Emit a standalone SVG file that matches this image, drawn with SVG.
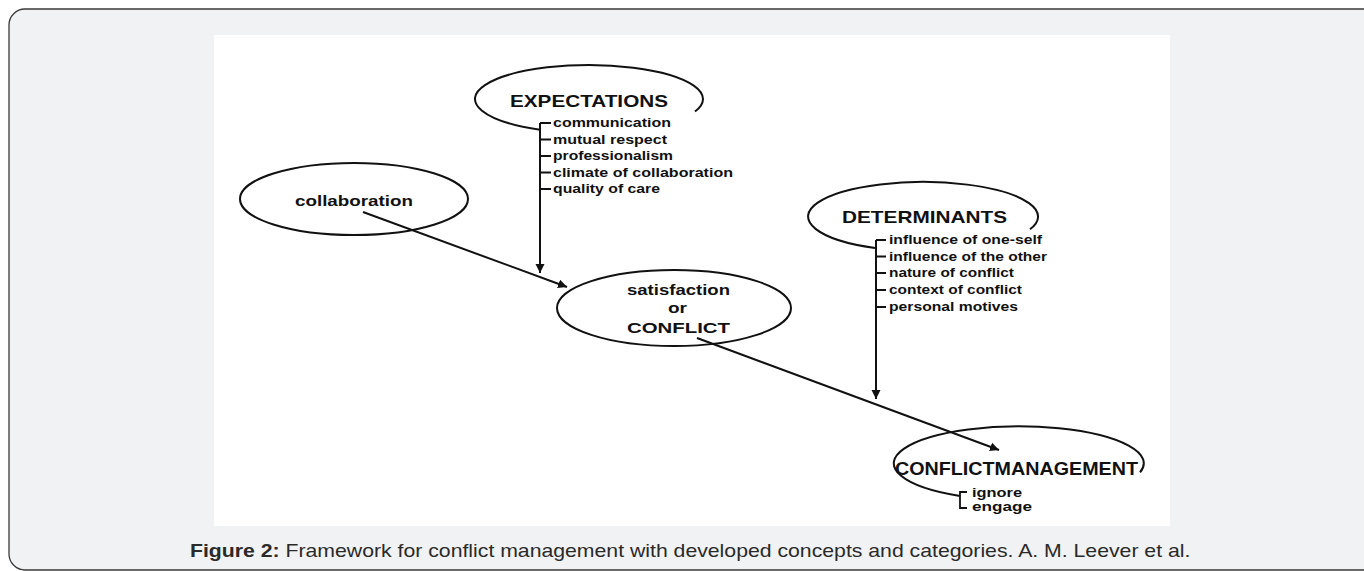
<svg xmlns="http://www.w3.org/2000/svg" width="1364" height="571" viewBox="0 0 1364 571">
<style>
.frame{fill:#f1f2f4;stroke:#3a3a3a;stroke-width:1.3}
.ell{fill:none;stroke:#111;stroke-width:2}
.con{fill:none;stroke:#111;stroke-width:2}
.brk{fill:none;stroke:#111;stroke-width:1.8}
text{font-family:"Liberation Sans",Arial,Helvetica,sans-serif;fill:#111}
.hd{font-size:17px;font-weight:bold}
.nd{font-size:15.5px;font-weight:bold}
.it{font-size:13px;font-weight:bold}
.cap{font-size:18px;fill:#2a2a2a}
</style>
<defs>
<marker id="ah" markerUnits="userSpaceOnUse" markerWidth="10" markerHeight="10" refX="9" refY="4.5" orient="auto">
<path d="M0,0 L9,4.5 L0,9 z" fill="#111"/>
</marker>
</defs>
<rect class="frame" x="9" y="9" width="1380" height="561" rx="16" ry="16"/>
<rect x="214" y="35" width="956" height="491" fill="#ffffff"/>

<g id="connectors">
<line class="con" x1="363" y1="212" x2="567" y2="287" marker-end="url(#ah)"/>
<line class="con" x1="540" y1="123" x2="540" y2="273" marker-end="url(#ah)"/>
<line class="con" x1="697" y1="338" x2="999" y2="450" marker-end="url(#ah)"/>
<line class="con" x1="876" y1="240" x2="876" y2="399" marker-end="url(#ah)"/>
</g>

<g id="expectations">
<path class="ell" d="M540 129.7 A114 34 0 1 1 695 111.5"/>
<text class="hd" x="510" y="107" textLength="158" lengthAdjust="spacingAndGlyphs">EXPECTATIONS</text>
<path class="brk" d="M551 123 H540 M540 139.5 H551 M540 156 H551 M540 172.5 H551 M540 189 H551"/>
<text class="it" x="553" y="127" textLength="118" lengthAdjust="spacingAndGlyphs">communication</text>
<text class="it" x="553" y="143.5" textLength="114" lengthAdjust="spacingAndGlyphs">mutual respect</text>
<text class="it" x="553" y="160" textLength="120" lengthAdjust="spacingAndGlyphs">professionalism</text>
<text class="it" x="553" y="176.5" textLength="180" lengthAdjust="spacingAndGlyphs">climate of collaboration</text>
<text class="it" x="553" y="193" textLength="107" lengthAdjust="spacingAndGlyphs">quality of care</text>
</g>

<g id="collaboration">
<ellipse class="ell" cx="354" cy="199" rx="114" ry="36"/>
<text class="nd" x="295" y="206" textLength="118" lengthAdjust="spacingAndGlyphs">collaboration</text>
</g>

<g id="satisfaction">
<ellipse class="ell" cx="674" cy="308" rx="117" ry="38"/>
<text class="nd" x="627" y="295" textLength="103" lengthAdjust="spacingAndGlyphs">satisfaction</text>
<text class="nd" x="668" y="313" textLength="19" lengthAdjust="spacingAndGlyphs">or</text>
<text class="nd" x="627" y="333" textLength="103" lengthAdjust="spacingAndGlyphs">CONFLICT</text>
</g>

<g id="determinants">
<path class="ell" d="M875 248 A115 34.6 0 1 1 1030 229.3"/>
<text class="hd" x="842" y="223" textLength="165" lengthAdjust="spacingAndGlyphs">DETERMINANTS</text>
<path class="brk" d="M886 240 H876 M876 256.5 H886 M876 273 H886 M876 290 H886 M876 307 H886"/>
<text class="it" x="889" y="244" textLength="153" lengthAdjust="spacingAndGlyphs">influence of one-self</text>
<text class="it" x="889" y="260.5" textLength="158" lengthAdjust="spacingAndGlyphs">influence of the other</text>
<text class="it" x="889" y="277" textLength="125" lengthAdjust="spacingAndGlyphs">nature of conflict</text>
<text class="it" x="889" y="294" textLength="133" lengthAdjust="spacingAndGlyphs">context of conflict</text>
<text class="it" x="889" y="311" textLength="129" lengthAdjust="spacingAndGlyphs">personal motives</text>
</g>

<g id="conflict-management">
<path class="ell" d="M960 496 A125 37 0 1 1 1140 472.4"/>
<text class="hd" x="895" y="475" style="font-size:19px" textLength="243" lengthAdjust="spacingAndGlyphs">CONFLICTMANAGEMENT</text>
<path class="brk" d="M967 492 H960 V508 H967"/>
<text class="it" x="972" y="497" textLength="50" lengthAdjust="spacingAndGlyphs">ignore</text>
<text class="it" x="972" y="511" textLength="60" lengthAdjust="spacingAndGlyphs">engage</text>
</g>

<g id="caption">
<text class="cap" transform="translate(190,557) scale(1.18,1)" x="0" y="0"><tspan font-weight="bold">Figure 2:</tspan> Framework for conflict management with developed concepts and categories. A. M. Leever et al.</text>
</g>
</svg>
